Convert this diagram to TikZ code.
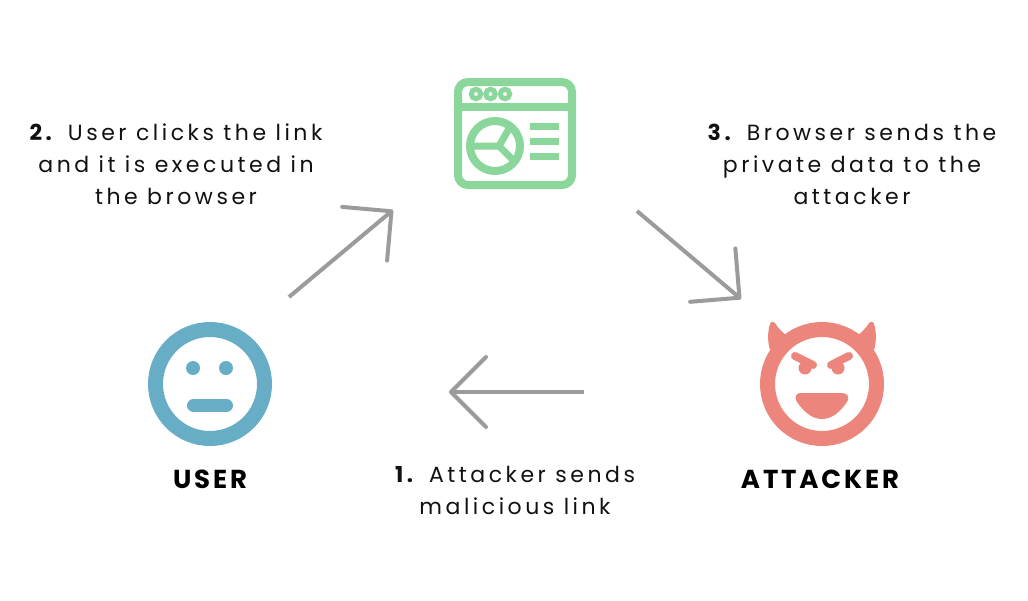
\documentclass[tikz,border=0pt]{standalone}
\usepackage{fontspec}
\usepackage{tikz}
\usetikzlibrary{arrows.meta}
\setmainfont[LetterSpace=16,Ligatures=NoCommon]{Poppins}
\newfontfamily\actorfont[LetterSpace=11,Ligatures=NoCommon]{Poppins}
\definecolor{cgreen}{HTML}{8AD69B}
\definecolor{cred}{HTML}{EC857B}
\definecolor{cblue}{HTML}{67ADC6}
\definecolor{cgrey}{HTML}{9B9B9B}
\definecolor{cink}{HTML}{111111}
\tikzset{
  flow/.style={cgrey,line width=4pt,-{Straight Barb[length=35pt,width=70pt,line width=4pt,round]}},
  caption/.style={align=center,font=\fontsize{22}{32}\selectfont,text=cink,inner sep=0pt},
  actor/.style={font=\actorfont\fontsize{26}{32}\selectfont\bfseries,text=black,inner sep=0pt},
  ring/.style={circle,line width=15pt,minimum size=109pt,inner sep=0pt,outer sep=0pt},
}
\begin{document}
\begin{tikzpicture}[x=1pt,y=-1pt]
\useasboundingbox (0,0) rectangle (1028,600);
% browser
\node[draw=cgreen,line width=8pt,rounded corners=10pt,minimum width=114pt,minimum height=103pt,inner sep=0pt] (browser) at (515,133.5) {};
\draw[cgreen,line width=8pt] (browser.west |- 0,107) -- (browser.east |- 0,107);
\foreach \cx/\n in {476/a,490.5/b,505/c}
  \node[circle,draw=cgreen,line width=5pt,minimum size=9.5pt,inner sep=0pt] (dot\n) at (\cx,94) {};
\node[circle,draw=cgreen,line width=8pt,minimum size=50pt,inner sep=0pt] (pie) at (495,146) {};
\draw[cgreen,line width=7pt,line join=miter] (474,146) -- (499,146) -- (510,127);
\draw[cgreen,line width=7pt] (499,146) -- (514,161);
\foreach \yy in {126.5,141.5,156.5}
  \draw[cgreen,line width=7.5pt] (530,\yy) -- (559,\yy);
% user
\node[ring,draw=cblue] (user) at (210,384) {};
\fill[cblue] (193,368) circle (7) (226,368) circle (7);
\draw[cblue,line width=13pt,line cap=round] (193.5,405.5) -- (226.5,405.5);
\node[actor] (userlabel) at (210,479) {USER};
% attacker
\fill[cred] (770,350) .. controls (767,340) and (768,330) .. (770,324) .. controls (771,321) and (774,321) .. (775,323) .. controls (778,328) and (782,332) .. (787,336) -- cycle;
\fill[cred] (874,350) .. controls (877,340) and (876,330) .. (874,324) .. controls (873,321) and (870,321) .. (869,323) .. controls (866,328) and (862,332) .. (857,336) -- cycle;
\node[ring,draw=cred] (attacker) at (822,384) {};
\draw[cred,line width=8pt,line cap=round] (795,356) -- (813,365);
\draw[cred,line width=8pt,line cap=round] (849,356) -- (831,365);
\fill[cred] (805,368) circle (6.5) (838,368) circle (6.5);
\fill[cred] (800,393) -- (842,393) .. controls (848,393) and (850,398) .. (847,402) .. controls (840,412) and (832,419) .. (822,419) .. controls (812,419) and (804,412) .. (797,402) .. controls (794,398) and (796,393) .. (800,393) -- cycle;
\node[actor] (attackerlabel) at (820,479) {ATTACKER};
% connectors
\coordinate (s1) at (584,392); \coordinate (e1) at (449,392);
\coordinate (s2) at (289,297); \coordinate (e2) at (393,210);
\coordinate (s3) at (637,211); \coordinate (e3) at (741,299);
\draw[flow] (s1) -- (e1);
\draw[flow] (s2) -- (e2);
\draw[flow] (s3) -- (e3);
% captions
\node[caption] (cap2) at (176,164) {\textbf{2.} User clicks the link\\and it is executed in\\the browser};
\node[caption] (cap3) at (852,164) {\textbf{3.} Browser sends the\\private data to the\\attacker};
\node[caption] (cap1) at (515,490) {\textbf{1.} Attacker sends\\malicious link};
\end{tikzpicture}
\end{document}
